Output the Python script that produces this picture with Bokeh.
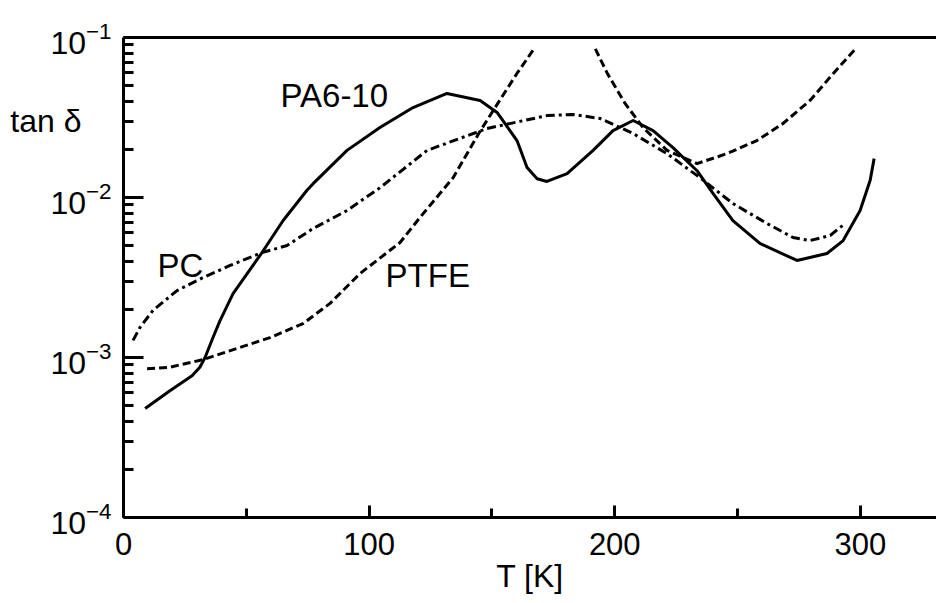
from bokeh.plotting import figure
from bokeh.models import (Range1d, FixedTicker, CustomJSTickFormatter, LinearAxis, LogAxis,
                          Label, LogTickFormatter)
from bokeh.embed import file_html
from bokeh.resources import INLINE

# ---- data ----
t_pa = [8.8, 18.9, 27.9, 31.1, 33.2, 36.4, 39.3, 44.6, 56.4, 65.0, 74.7, 77.2, 91.0, 104.4,
        117.9, 131.7, 145.2, 152.1, 160.2, 164.3, 168.4, 172.4, 180.6, 191.2, 199.3, 207.5,
        215.6, 223.7, 233.5, 240.0, 248.1, 259.1, 274.2, 286.4, 293.0, 299.9, 304.0, 305.6]
tan_pa = [4.8e-4, 6.2e-4, 7.7e-4, 8.7e-4, 1.0e-3, 1.33e-3, 1.70e-3, 2.51e-3, 4.53e-3, 7.18e-3,
          1.11e-2, 1.22e-2, 1.97e-2, 2.74e-2, 3.65e-2, 4.47e-2, 4.04e-2, 3.40e-2, 2.27e-2,
          1.54e-2, 1.31e-2, 1.26e-2, 1.41e-2, 1.97e-2, 2.62e-2, 3.03e-2, 2.62e-2, 2.05e-2,
          1.47e-2, 1.06e-2, 7.18e-3, 5.16e-3, 4.04e-3, 4.47e-3, 5.38e-3, 8.29e-3, 1.28e-2, 1.75e-2]

t_pc = [3.9, 6.7, 12.0, 21.8, 32.4, 43.4, 56.4, 66.6, 77.2, 91.0, 104.4, 123.6, 148.0, 172.4,
        183.0, 194.0, 207.5, 221.3, 234.7, 248.1, 262.0, 272.6, 279.5, 287.7, 293.8]
tan_pc = [1.28e-3, 1.54e-3, 1.97e-3, 2.62e-3, 3.16e-3, 3.76e-3, 4.53e-3, 5.01e-3, 6.40e-3,
          8.29e-3, 1.15e-2, 1.97e-2, 2.70e-2, 3.25e-2, 3.30e-2, 3.12e-2, 2.51e-2, 1.88e-2,
          1.33e-2, 9.17e-3, 6.88e-3, 5.62e-3, 5.38e-3, 5.79e-3, 6.88e-3]

t_ptfe_lo = [9.6, 18.9, 32.4, 46.2, 59.6, 73.1, 84.1, 96.3, 112.6, 120.7, 134.2, 145.2, 151.3,
             160.2, 167.5]
tan_ptfe_lo = [8.5e-4, 8.7e-4, 9.7e-4, 1.14e-3, 1.33e-3, 1.63e-3, 2.18e-3, 3.35e-3, 5.23e-3,
               7.5e-3, 1.33e-2, 2.6e-2, 3.65e-2, 5.96e-2, 8.66e-2]

t_ptfe_hi = [192.1, 197.0, 204.2, 211.5, 221.3, 233.5, 245.7, 257.9, 268.5, 279.5, 289.0, 298.0]
tan_ptfe_hi = [8.5e-2, 5.96e-2, 3.87e-2, 2.74e-2, 1.97e-2, 1.63e-2, 1.88e-2, 2.27e-2, 2.90e-2,
               4.04e-2, 5.96e-2, 8.5e-2]

x_ticks = [0, 100, 200, 300]
x_minor = [50, 150, 250]
y_decades = [1e-4, 1e-3, 1e-2, 1e-1]
y_title = "tan δ"
y_title_at = 3e-2          # height of the y title, in tan δ units
x_title = "T [K]"

curve_names = ["PA6-10", "PC", "PTFE"]
name_x = [63.9, 13.8, 106.7]
name_y = [0.0376, 3.25e-3, 2.82e-3]

FONT = "Liberation Sans"
W, H = 936, 603

p = figure(width=W, height=H, x_range=Range1d(0, 331.0), y_range=Range1d(1e-4, 1e-1),
           y_axis_type="log", output_backend="svg", toolbar_location=None,
           min_border_left=123, min_border_right=0, min_border_top=37, min_border_bottom=86,
           background_fill_color="white", border_fill_color="white")
p.outline_line_color = None
p.xgrid.visible = False
p.ygrid.visible = False

blank = CustomJSTickFormatter(code="return ''")

# x axis
xa = p.xaxis[0]
xa.ticker = FixedTicker(ticks=x_ticks, minor_ticks=x_minor)
xa.axis_line_width = 3
xa.axis_line_color = "black"
xa.major_tick_in = 12
xa.major_tick_out = 0
xa.minor_tick_in = 9
xa.minor_tick_out = 0
xa.major_tick_line_width = 3
xa.minor_tick_line_width = 3
xa.major_tick_line_color = "black"
xa.minor_tick_line_color = "black"
xa.major_label_text_font = FONT
xa.major_label_text_font_size = "31px"
xa.major_label_text_color = "black"
xa.major_label_standoff = 15
xa.axis_label = x_title
xa.axis_label_text_font = FONT
xa.axis_label_text_font_size = "32px"
xa.axis_label_text_font_style = "normal"
xa.axis_label_text_color = "black"
xa.axis_label_standoff = 0

# y axis: line + ticks only
minor_y = [k * d for d in y_decades[:-1] for k in range(2, 10)]
ya = p.yaxis[0]
ya.ticker = FixedTicker(ticks=y_decades, minor_ticks=minor_y)
ya.formatter = blank
ya.axis_line_width = 3
ya.axis_line_color = "black"
ya.major_tick_in = 20
ya.major_tick_out = 0
ya.minor_tick_in = 10
ya.minor_tick_out = 0
ya.major_tick_line_width = 3
ya.minor_tick_line_width = 3
ya.major_tick_line_color = "black"
ya.minor_tick_line_color = "black"
ya.major_label_standoff = 0
ya.major_label_text_font_size = "0px"

# decade labels (10 with exponent)
yl = LogAxis(ticker=FixedTicker(ticks=y_decades, minor_ticks=[]),
             formatter=LogTickFormatter(),
             axis_line_color=None, major_tick_in=0, major_tick_out=0,
             minor_tick_in=0, minor_tick_out=0, major_label_standoff=12,
             major_label_text_font=FONT, major_label_text_font_size="32px",
             major_label_text_color="black")
p.add_layout(yl, "left")

# horizontal y title (outer axis pulled back over the decade-label column)
yt = LogAxis(ticker=FixedTicker(ticks=[y_title_at], minor_ticks=[]),
             formatter=blank, major_label_overrides={y_title_at: y_title},
             axis_line_color=None, major_tick_in=0, major_tick_out=0,
             minor_tick_in=0, minor_tick_out=0, major_label_standoff=-34,
             major_label_text_font=FONT, major_label_text_font_size="32px",
             major_label_text_color="black")
p.add_layout(yt, "left")

# top border line
top = LinearAxis(ticker=FixedTicker(ticks=[]), formatter=blank, axis_line_width=3,
                 axis_line_color="black", major_tick_in=0, major_tick_out=0,
                 minor_tick_in=0, minor_tick_out=0, major_label_text_font_size="0px")
p.add_layout(top, "above")

# curves
p.line(t_pa, tan_pa, line_width=3, line_color="black", line_join="round")
p.line(t_pc, tan_pc, line_width=3, line_color="black", line_dash="9 4 3 4")
p.line(t_ptfe_lo, tan_ptfe_lo, line_width=3, line_color="black", line_dash="8 4")
p.line(t_ptfe_hi, tan_ptfe_hi, line_width=3, line_color="black", line_dash="8 4")

for name, nx, ny in zip(curve_names, name_x, name_y):
    p.add_layout(Label(x=nx, y=ny, y_offset=10, text=name, text_font=FONT,
                       text_font_size="33px", text_align="left",
                       text_baseline="alphabetic", text_color="black"))

open("out.html", "w").write(file_html(p, INLINE))
